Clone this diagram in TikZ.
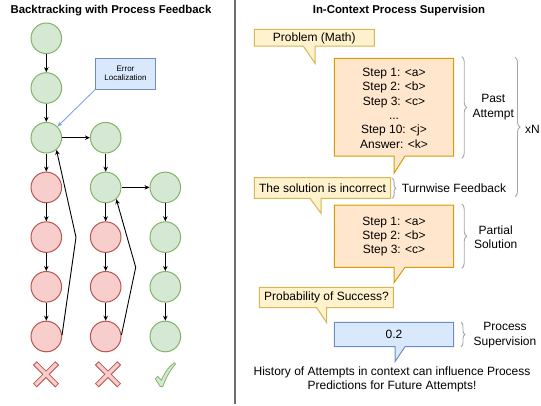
\documentclass[tikz,border=0pt]{standalone}
\usepackage{fontspec}
\setmainfont{Liberation Sans}
\usetikzlibrary{arrows.meta,decorations.pathreplacing}
\definecolor{gfill}{HTML}{D5E8D4}
\definecolor{gline}{HTML}{82B366}
\definecolor{rfill}{HTML}{F8CECC}
\definecolor{rline}{HTML}{B85450}
\definecolor{yfill}{HTML}{FFF2CC}
\definecolor{yline}{HTML}{D6B656}
\definecolor{ofill}{HTML}{FFE6CC}
\definecolor{oline}{HTML}{D79B00}
\definecolor{bfill}{HTML}{DAE8FC}
\definecolor{bline}{HTML}{6C8EBF}
\definecolor{bracecol}{HTML}{A6A6A6}
\definecolor{divc}{HTML}{6E6E6E}
\definecolor{errarrow}{HTML}{7EA6E0}
\begin{document}
\begin{tikzpicture}[x=1pt,y=-1pt,
  gnode/.style={circle,draw=gline,fill=gfill,line width=1pt,minimum size=30.6pt,inner sep=0pt},
  rnode/.style={circle,draw=rline,fill=rfill,line width=1pt,minimum size=30.6pt,inner sep=0pt},
  arr/.style={draw=black,line width=0.9pt,-{Stealth[length=5pt,width=4.5pt]}},
  txt/.style={font=\fontsize{12}{14.3}\selectfont,inner sep=0pt,align=center},
  ttl/.style={font=\fontsize{11.4}{13}\selectfont\bfseries,inner sep=0pt},
  ycall/.style={draw=yline,fill=yfill,line width=1pt,line join=miter},
  ocall/.style={draw=oline,fill=ofill,line width=1pt,line join=miter},
  bcall/.style={draw=bline,fill=bfill,line width=1pt,line join=miter},
  bracestyle/.style={draw=bracecol,line width=0.9pt,decorate,decoration={brace,amplitude=#1}},
  bracestyle/.default=5pt,
  xshape/.style={draw=rline,fill=rfill,line width=0.8pt,line join=miter}
]
\useasboundingbox (0,0) rectangle (541,405);
% divider
\draw[divc,line width=1.5pt] (235,0) -- (235,404);
% titles
\node[ttl] (t1) at (111,11) {Backtracking with Process Feedback};
\node[ttl] (t2) at (399,11) {In-Context Process Supervision};
% ---------- left panel ----------
\node[gnode] (c1r1) at (46.3,38.3) {};
\node[gnode] (c1r2) at (46.3,88) {};
\node[gnode] (c1r3) at (46.3,137.7) {};
\node[rnode] (c1r4) at (46.3,187.4) {};
\node[rnode] (c1r5) at (46.3,237.1) {};
\node[rnode] (c1r6) at (46.3,286.8) {};
\node[rnode] (c1r7) at (46.3,336.5) {};
\node[gnode] (c2r3) at (105.7,137.7) {};
\node[gnode] (c2r4) at (105.7,187.4) {};
\node[rnode] (c2r5) at (105.7,237.1) {};
\node[rnode] (c2r6) at (105.7,286.8) {};
\node[rnode] (c2r7) at (105.7,336.5) {};
\node[gnode] (c3r4) at (165.3,187.4) {};
\node[gnode] (c3r5) at (165.3,237.1) {};
\node[gnode] (c3r6) at (165.3,286.8) {};
\node[gnode] (c3r7) at (165.3,336.5) {};
\draw[arr] (c1r1) -- (c1r2);
\draw[arr] (c1r2) -- (c1r3);
\draw[arr] (c1r3) -- (c1r4);
\draw[arr] (c1r4) -- (c1r5);
\draw[arr] (c1r5) -- (c1r6);
\draw[arr] (c1r6) -- (c1r7);
\draw[arr] (c1r3) -- (c2r3);
\draw[arr] (c2r3) -- (c2r4);
\draw[arr] (c2r4) -- (c2r5);
\draw[arr] (c2r5) -- (c2r6);
\draw[arr] (c2r6) -- (c2r7);
\draw[arr] (c2r4) -- (c3r4);
\draw[arr] (c3r4) -- (c3r5);
\draw[arr] (c3r5) -- (c3r6);
\draw[arr] (c3r6) -- (c3r7);
\coordinate (bk1) at (76,237.3);
\coordinate (bk2) at (135.7,267.3);
\draw[arr] (c1r7.5) -- (bk1) -- (c1r3.-50);
\draw[arr] (c2r7.5) -- (bk2) -- (c2r4.-48);
% error localization
\node[draw=bline,fill=bfill,line width=1pt,minimum width=59.6pt,minimum height=30.7pt,inner sep=0pt,align=center,font=\fontsize{8}{9}\selectfont] (err) at (125.5,73.7) {Error\\Localization};
\draw[errarrow,line width=0.9pt,-{Stealth[length=5pt,width=4.5pt]}] (err.south west) -- (c1r3.45);
% crosses and tick
\draw[xshape,shift={(46,374.3)}] (-12.5,-9.3) -- (-9.3,-12.5) -- (0,-3.2) -- (9.3,-12.5) -- (12.5,-9.3) -- (3.2,0) -- (12.5,9.3) -- (9.3,12.5) -- (0,3.2) -- (-9.3,12.5) -- (-12.5,9.3) -- (-3.2,0) -- cycle;
\draw[xshape,shift={(108,374.3)}] (-12.5,-9.3) -- (-9.3,-12.5) -- (0,-3.2) -- (9.3,-12.5) -- (12.5,-9.3) -- (3.2,0) -- (12.5,9.3) -- (9.3,12.5) -- (0,3.2) -- (-9.3,12.5) -- (-12.5,9.3) -- (-3.2,0) -- cycle;
\draw[draw=gline,fill=gfill,line width=0.8pt,line join=round] (155.3,378.8) -- (157.8,376.3) -- (161.3,380.3) .. controls (165,372) and (169,366) .. (174.5,362.8) -- (175.5,364) .. controls (170,370) and (166,378) .. (162.8,386.5) -- (160.2,386.5) -- cycle;
% ---------- right panel ----------
\draw[ycall] (254.3,29.3) -- (374.3,29.3) -- (374.3,46) -- (315,46) -- (315,63.3) -- (303.3,46) -- (254.3,46) -- cycle;
\node[txt] (prob) at (314.3,38) {Problem (Math)};
\draw[ocall] (334.3,58.3) -- (453.7,58.3) -- (453.7,156) -- (405,156) -- (394,173.3) -- (394,156) -- (334.3,156) -- cycle;
\node[txt] (past) at (394,108.3) {Step 1: <a>\\Step 2: <b>\\Step 3: <c>\\...\\Step 10: <j>\\Answer: <k>};
\draw[ycall] (254.3,177.7) -- (390.7,177.7) -- (390.7,198.3) -- (321,198.3) -- (321,213.3) -- (310,198.3) -- (254.3,198.3) -- cycle;
\node[txt] (sol) at (322.5,188) {The solution is incorrect};
\draw[ocall] (334.3,205) -- (453.7,205) -- (453.7,267.3) -- (405,267.3) -- (394,282.7) -- (394,267.3) -- (334.3,267.3) -- cycle;
\node[txt] (part) at (394,236.5) {Step 1: <a>\\Step 2: <b>\\Step 3: <c>};
\draw[ycall] (259.3,287.3) -- (393.3,287.3) -- (393.3,307.7) -- (326.7,307.7) -- (326.7,322.7) -- (316.7,307.7) -- (259.3,307.7) -- cycle;
\node[txt] (psucc) at (326.5,297.7) {Probability of Success?};
\draw[bcall] (334.3,322.3) -- (453.7,322.3) -- (453.7,346.7) -- (405,346.7) -- (395,361.7) -- (395,346.7) -- (334.3,346.7) -- cycle;
\node[txt] (val) at (394,334.3) {0.2};
% braces
\draw[bracestyle] (461.7,56.7) -- (461.7,158.3);
\draw[bracestyle] (515,57.3) -- (515,196.7);
\draw[bracestyle=3.5pt] (392.3,178.3) -- (392.3,198.3);
\draw[bracestyle] (461.7,204) -- (461.7,268.3);
\draw[bracestyle=4pt] (461,322.3) -- (461,346.7);
% brace labels
\node[txt] (lpast) at (493.3,107.2) {Past\\Attempt};
\node[txt] (lxn) at (532.5,129) {xN};
\node[txt,anchor=west] (lturn) at (401.7,188) {Turnwise Feedback};
\node[txt] (lpart) at (495.7,237.5) {Partial\\Solution};
\node[txt] (lproc) at (505,335) {Process\\Supervision};
% bottom note
\node[txt] (note) at (392,379.5) {History of Attempts in context can influence Process\\Predictions for Future Attempts!};
\end{tikzpicture}
\end{document}
